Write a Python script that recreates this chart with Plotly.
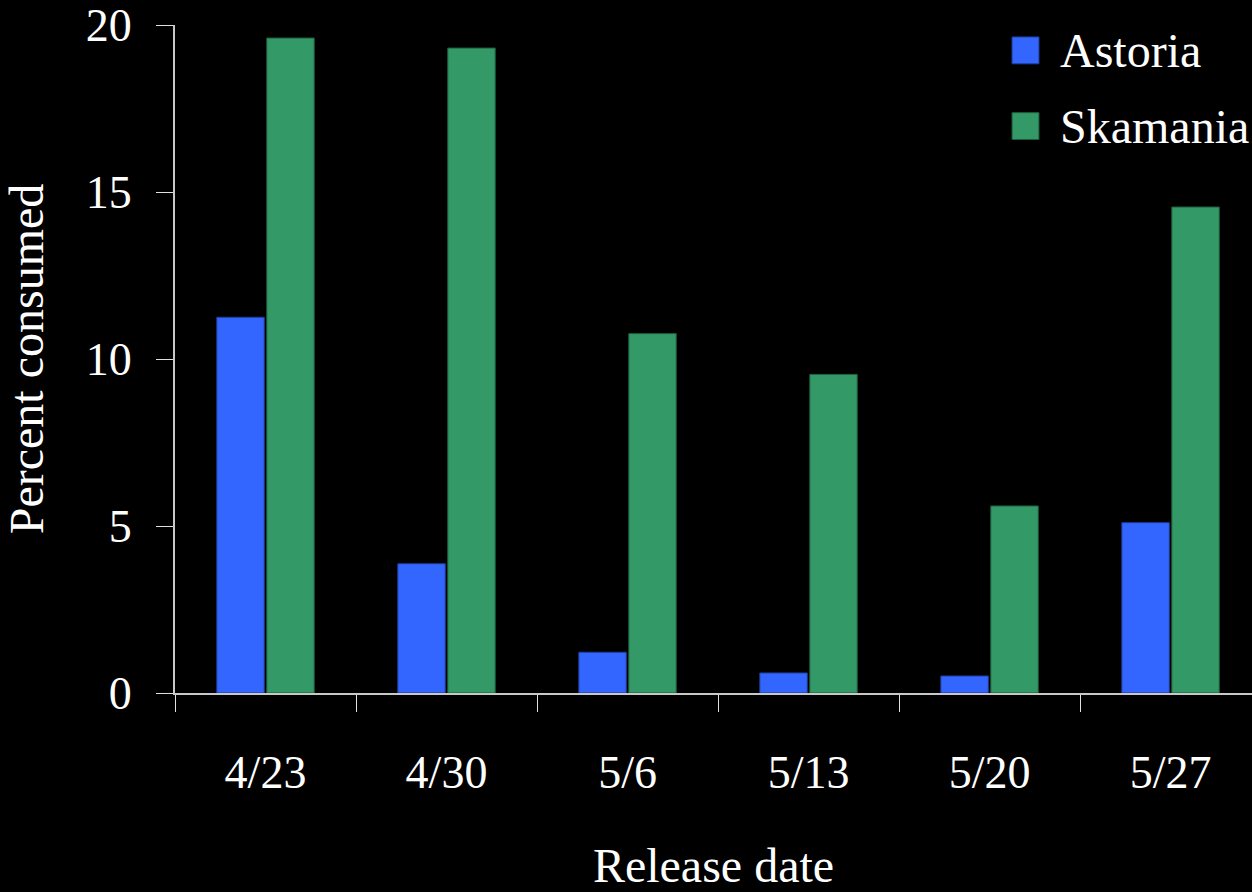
import plotly.graph_objects as go

release_dates = ["4/23", "4/30", "5/6", "5/13", "5/20", "5/27"]
series_names = ["Astoria", "Skamania"]
astoria = [11.25, 3.87, 1.22, 0.60, 0.51, 5.10]
skamania = [19.61, 19.31, 10.76, 9.54, 5.60, 14.55]
y_ticks = [0, 5, 10, 15, 20]

colors = ["#3366FF", "#339966"]
edge = ["#1f3d99", "#1d5c3d"]
FONT = "Liberation Serif, Times New Roman, serif"

fig = go.Figure()
for name, vals, c, e in zip(series_names, [astoria, skamania], colors, edge):
    fig.add_trace(go.Bar(x=release_dates, y=vals, name=name,
                         marker=dict(color=c, line=dict(color=e, width=1)),
                         showlegend=False))

# manual legend (large square swatches)
leg_y = [(0.9419, 0.9821), (0.8286, 0.8688)]
shapes = []
annotations = []
for (y0, y1), name, c, e in zip(leg_y, series_names, colors, edge):
    shapes.append(dict(type="rect", xref="paper", yref="paper",
                       x0=0.7772, x1=0.8022, y0=y0, y1=y1,
                       fillcolor=c, line=dict(color=e, width=1)))
    annotations.append(dict(xref="paper", yref="paper", x=0.8199, y=(y0 + y1) / 2,
                            text=name, showarrow=False, xanchor="left", yanchor="middle",
                            font=dict(family=FONT, size=48, color="white")))

fig.update_layout(
    width=1252, height=892,
    paper_bgcolor="black", plot_bgcolor="black",
    margin=dict(l=175, r=0, t=22, b=199),
    barmode="group", bargap=0.448, bargroupgap=0.05,
    font=dict(family=FONT, color="white", size=46),
    shapes=shapes, annotations=annotations,
    xaxis=dict(
        type="category", range=[-0.5, 5.45],
        showline=True, linecolor="#c8c8c8", linewidth=2,
        ticks="outside", tickson="boundaries", ticklen=17, tickcolor="#e0e0e0", tickwidth=1,
        ticklabelstandoff=38,
        showgrid=False, zeroline=False,
        tickfont=dict(family=FONT, size=46, color="white"),
        title=dict(text="Release date", standoff=57,
                   font=dict(family=FONT, size=48, color="white")),
    ),
    yaxis=dict(
        range=[0, 20], tickvals=y_ticks,
        showline=True, linecolor="#c8c8c8", linewidth=2,
        ticks="outside", ticklen=17, tickcolor="#e0e0e0", tickwidth=1,
        ticklabelstandoff=15, ticklabeloverflow="allow",
        showgrid=False, zeroline=False,
        tickfont=dict(family=FONT, size=46, color="white"),
        title=dict(text="Percent consumed", standoff=35,
                   font=dict(family=FONT, size=48, color="white")),
    ),
)

fig.write_html("out.html", config={"displayModeBar": False},
               post_script="document.body.style.margin='0';document.body.style.background='black';")
